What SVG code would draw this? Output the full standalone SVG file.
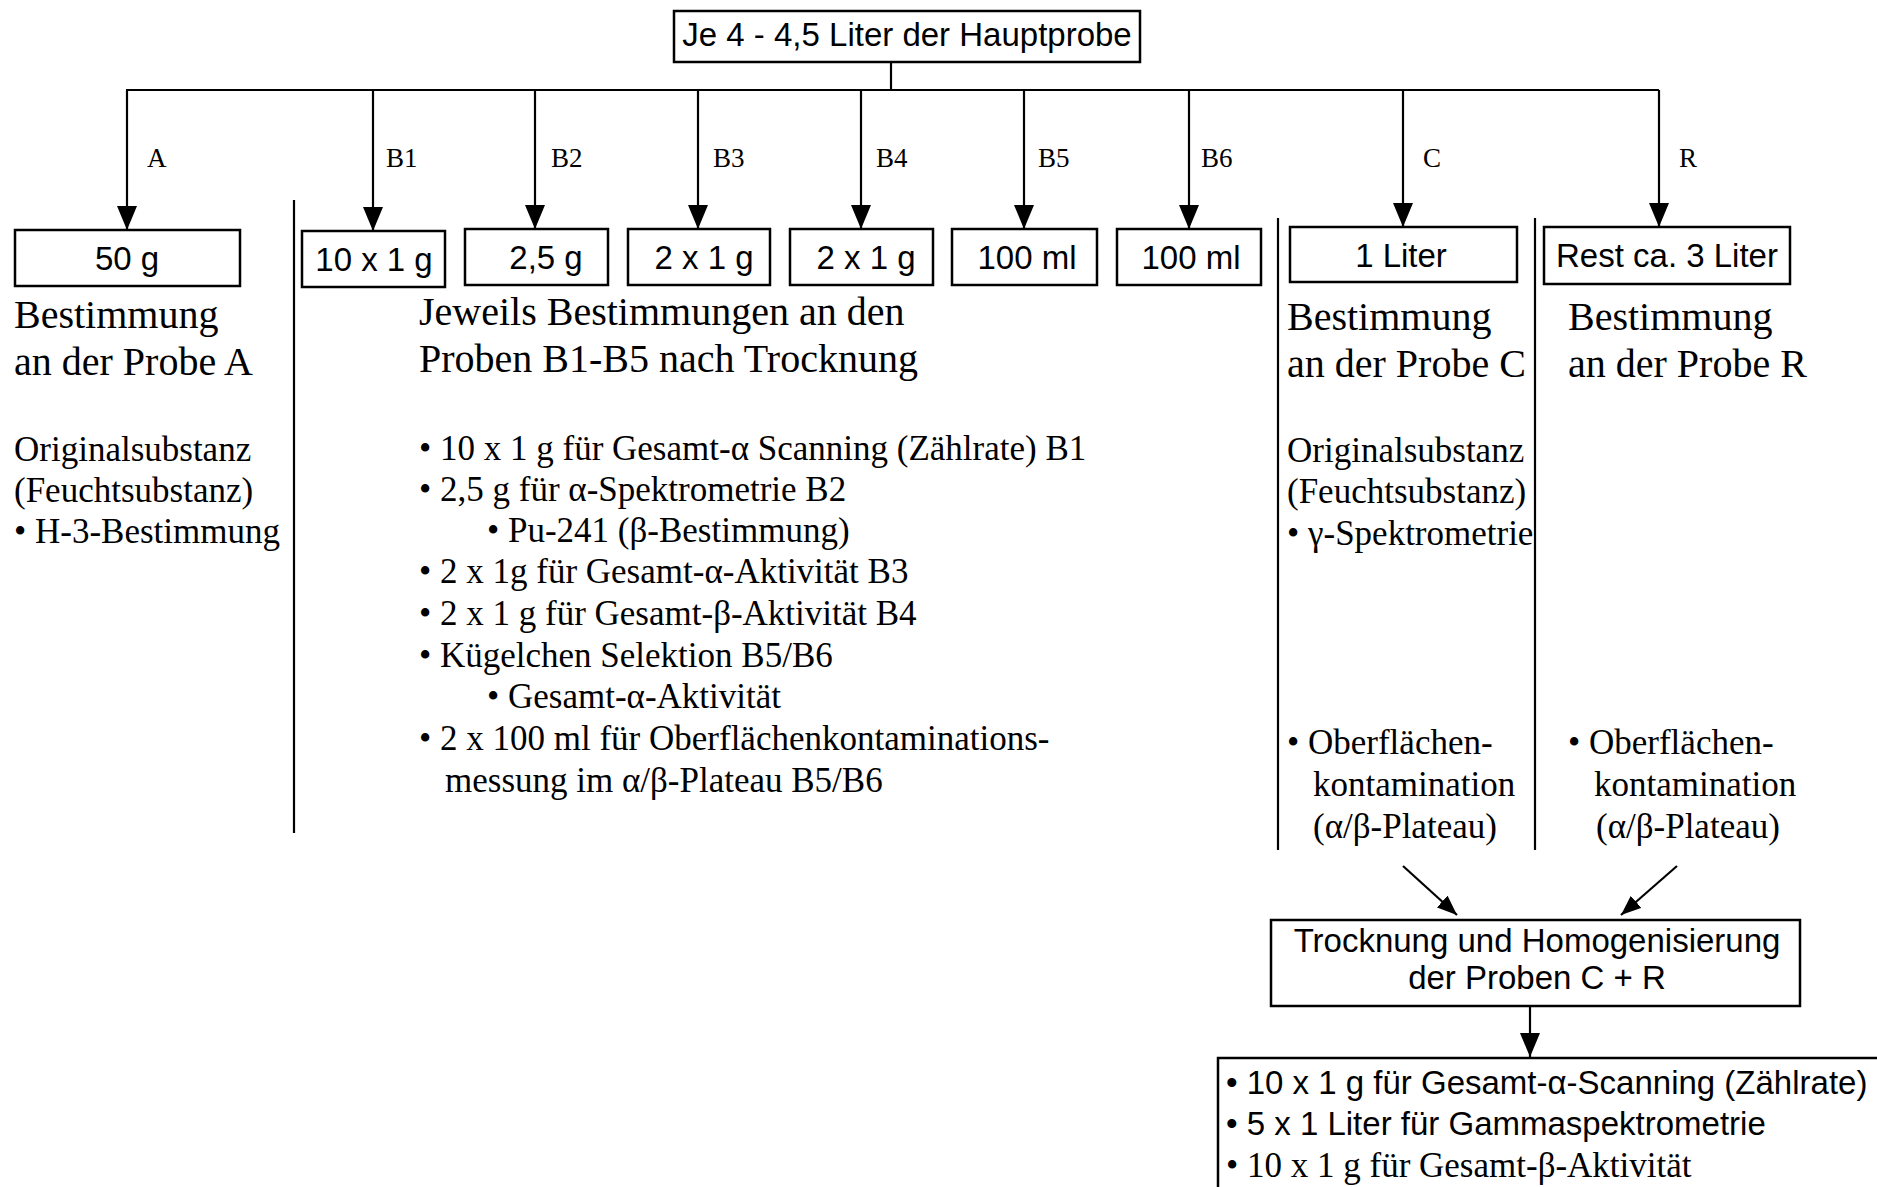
<svg xmlns="http://www.w3.org/2000/svg" width="1877" height="1187" viewBox="0 0 1877 1187">
<defs>
<style>
.box{fill:#fff;stroke:#000;stroke-width:2.5}
.ln{stroke:#000;stroke-width:2.2;fill:none}
.sep{stroke:#000;stroke-width:2.2}
.sans{font-family:"Liberation Sans",Arial,sans-serif;font-size:33px;fill:#000}
.serif{font-family:"Liberation Serif","Times New Roman",serif;fill:#000}
.h{font-size:40px}
.b{font-size:35px}
.lbl{font-size:27px}
.mid{text-anchor:middle}
</style>
<marker id="ah" markerUnits="userSpaceOnUse" markerWidth="24" markerHeight="20" refX="24" refY="10" orient="auto">
<path d="M0,0 L24,10 L0,20 Z" fill="#000"/>
</marker>
<marker id="ah2" markerUnits="userSpaceOnUse" markerWidth="20" markerHeight="16" refX="20" refY="8" orient="auto">
<path d="M0,0 L20,8 L0,16 Z" fill="#000"/>
</marker>
</defs>
<rect width="1877" height="1187" fill="#fff"/>

<g id="connectors">
<line class="ln" x1="891" y1="62" x2="891" y2="90"/>
<line class="ln" x1="126" y1="90" x2="1659" y2="90"/>
<line class="ln" x1="127" y1="90" x2="127" y2="230" marker-end="url(#ah)"/>
<line class="ln" x1="373" y1="90" x2="373" y2="231" marker-end="url(#ah)"/>
<line class="ln" x1="535" y1="90" x2="535" y2="229" marker-end="url(#ah)"/>
<line class="ln" x1="698" y1="90" x2="698" y2="229" marker-end="url(#ah)"/>
<line class="ln" x1="861" y1="90" x2="861" y2="229" marker-end="url(#ah)"/>
<line class="ln" x1="1024" y1="90" x2="1024" y2="229" marker-end="url(#ah)"/>
<line class="ln" x1="1189" y1="90" x2="1189" y2="229" marker-end="url(#ah)"/>
<line class="ln" x1="1403" y1="90" x2="1403" y2="227" marker-end="url(#ah)"/>
<line class="ln" x1="1659" y1="90" x2="1659" y2="227" marker-end="url(#ah)"/>
<line class="ln" x1="1403" y1="866" x2="1457" y2="915" marker-end="url(#ah2)"/>
<line class="ln" x1="1677" y1="866" x2="1621" y2="915" marker-end="url(#ah2)"/>
<line class="ln" x1="1530" y1="1006" x2="1530" y2="1057" marker-end="url(#ah)"/>
<g class="serif lbl">
<text x="147" y="167">A</text>
<text x="386" y="167">B1</text>
<text x="551" y="167">B2</text>
<text x="713" y="167">B3</text>
<text x="876" y="167">B4</text>
<text x="1038" y="167">B5</text>
<text x="1201" y="167">B6</text>
<text x="1423" y="167">C</text>
<text x="1679" y="167">R</text>
</g>
</g>

<g id="separators">
<line class="sep" x1="294" y1="200" x2="294" y2="833"/>
<line class="sep" x1="1278" y1="218" x2="1278" y2="850"/>
<line class="sep" x1="1535" y1="218" x2="1535" y2="850"/>
</g>

<g id="node-main">
<rect class="box" x="674" y="11" width="466" height="51"/>
<text class="sans mid" x="907" y="46">Je 4 - 4,5 Liter der Hauptprobe</text>
</g>

<g id="node-a">
<rect class="box" x="15" y="230" width="225" height="56"/>
<text class="sans mid" x="127" y="270">50 g</text>
</g>
<g id="node-b1">
<rect class="box" x="302" y="231" width="143" height="56"/>
<text class="sans mid" x="374" y="271">10 x 1 g</text>
</g>
<g id="node-b2">
<rect class="box" x="465" y="229" width="143" height="56"/>
<text class="sans mid" x="546" y="269">2,5 g</text>
</g>
<g id="node-b3">
<rect class="box" x="628" y="229" width="142" height="56"/>
<text class="sans mid" x="704" y="269">2 x 1 g</text>
</g>
<g id="node-b4">
<rect class="box" x="790" y="229" width="143" height="56"/>
<text class="sans mid" x="866" y="269">2 x 1 g</text>
</g>
<g id="node-b5">
<rect class="box" x="952" y="229" width="145" height="56"/>
<text class="sans mid" x="1027" y="269">100 ml</text>
</g>
<g id="node-b6">
<rect class="box" x="1117" y="229" width="144" height="56"/>
<text class="sans mid" x="1191" y="269">100 ml</text>
</g>
<g id="node-c">
<rect class="box" x="1290" y="227" width="227" height="55"/>
<text class="sans mid" x="1401" y="267">1 Liter</text>
</g>
<g id="node-r">
<rect class="box" x="1544" y="227" width="246" height="57"/>
<text class="sans mid" x="1667" y="267">Rest ca. 3 Liter</text>
</g>

<g id="text-a" class="serif">
<text class="h" x="14" y="328">Bestimmung</text>
<text class="h" x="14" y="375">an der Probe A</text>
<text class="b" x="14" y="461">Originalsubstanz</text>
<text class="b" x="14" y="502">(Feuchtsubstanz)</text>
<text class="b" x="14" y="543">• H-3-Bestimmung</text>
</g>

<g id="text-b" class="serif">
<text class="h" x="419" y="325">Jeweils Bestimmungen an den</text>
<text class="h" x="419" y="372">Proben B1-B5 nach Trocknung</text>
<text class="b" x="419" y="460">• 10 x 1 g für Gesamt-α Scanning (Zählrate) B1</text>
<text class="b" x="419" y="501">• 2,5 g für α-Spektrometrie B2</text>
<text class="b" x="487" y="542">• Pu-241 (β-Bestimmung)</text>
<text class="b" x="419" y="583">• 2 x 1g für Gesamt-α-Aktivität B3</text>
<text class="b" x="419" y="625">• 2 x 1 g für Gesamt-β-Aktivität B4</text>
<text class="b" x="419" y="667">• Kügelchen Selektion B5/B6</text>
<text class="b" x="487" y="708">• Gesamt-α-Aktivität</text>
<text class="b" x="419" y="750">• 2 x 100 ml für Oberflächenkontaminations-</text>
<text class="b" x="445" y="792">messung im α/β-Plateau B5/B6</text>
</g>

<g id="text-c" class="serif">
<text class="h" x="1287" y="330">Bestimmung</text>
<text class="h" x="1287" y="377">an der Probe C</text>
<text class="b" x="1287" y="462">Originalsubstanz</text>
<text class="b" x="1287" y="503">(Feuchtsubstanz)</text>
<text class="b" x="1287" y="545">• γ-Spektrometrie</text>
<text class="b" x="1287" y="754">• Oberflächen-</text>
<text class="b" x="1313" y="796">kontamination</text>
<text class="b" x="1313" y="838">(α/β-Plateau)</text>
</g>

<g id="text-r" class="serif">
<text class="h" x="1568" y="330">Bestimmung</text>
<text class="h" x="1568" y="377">an der Probe R</text>
<text class="b" x="1568" y="754">• Oberflächen-</text>
<text class="b" x="1594" y="796">kontamination</text>
<text class="b" x="1596" y="838">(α/β-Plateau)</text>
</g>

<g id="node-dry">
<rect class="box" x="1271" y="920" width="529" height="86"/>
<text class="sans mid" x="1537" y="952">Trocknung und Homogenisierung</text>
<text class="sans mid" x="1537" y="989">der Proben C + R</text>
</g>

<g id="node-final">
<rect class="box" x="1218" y="1058" width="700" height="200"/>
<text class="sans" x="1226" y="1094">• 10 x 1 g für Gesamt-α-Scanning (Zählrate)</text>
<text class="sans" x="1226" y="1135">• 5 x 1 Liter für Gammaspektrometrie</text>
<text class="serif b" x="1226" y="1177">• 10 x 1 g für Gesamt-β-Aktivität</text>
</g>
</svg>
